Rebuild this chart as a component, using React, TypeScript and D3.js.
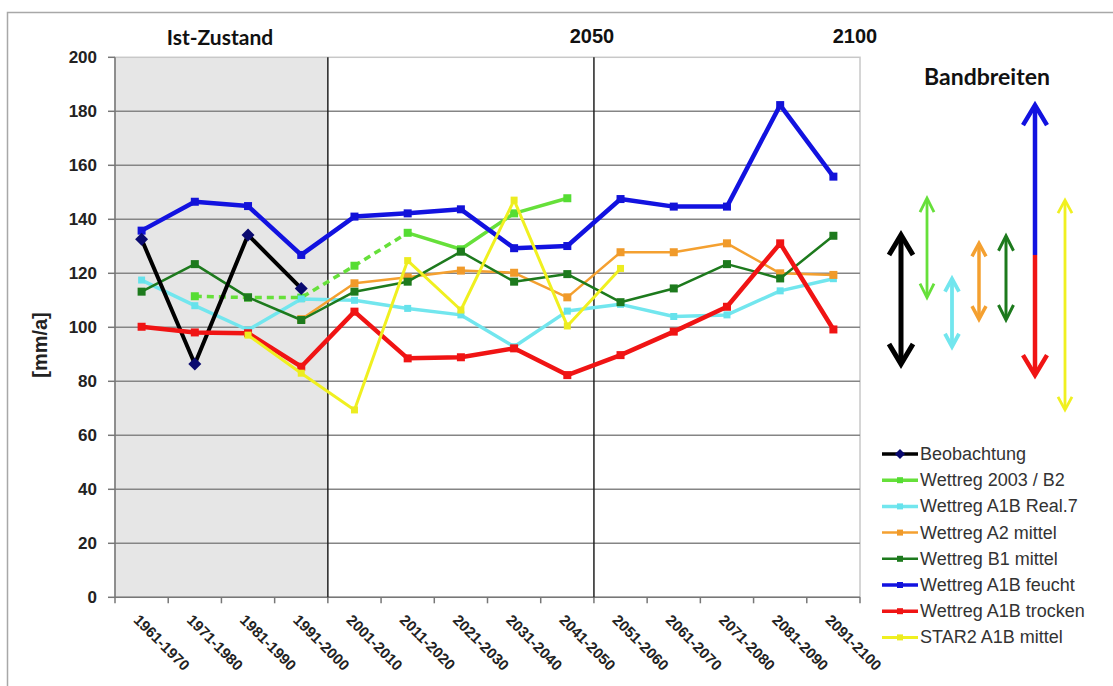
import React from 'react';
import * as d3 from 'd3';

const categories = [
  '1961-1970', '1971-1980', '1981-1990', '1991-2000', '2001-2010', '2011-2020', '2021-2030',
  '2031-2040', '2041-2050', '2051-2060', '2061-2070', '2071-2080', '2081-2090', '2091-2100',
];
const yTicks = [0, 20, 40, 60, 80, 100, 120, 140, 160, 180, 200];

const beobachtung = [132.6, 86.4, 134.2, 114.4, null, null, null, null, null, null, null, null, null, null];
const wettreg2003B2 = [null, 111.5, 111, 111, 122.8, 135, 128.9, 142.2, 147.8, null, null, null, null, null];
const wettregA1BReal7 = [117.5, 108, 99, 110.5, 110, 107, 104.6, 92.8, 106, 108.5, 104, 104.6, 113.5, 118];
const wettregA2 = [null, null, null, 103, 116.3, 118.5, 121, 120.2, 111.1, 127.8, 127.8, 131.1, 120, 119.4];
const wettregB1 = [113.2, 123.4, 111.1, 102.7, 113.2, 116.9, 128, 116.9, 119.7, 109.3, 114.4, 123.4, 118.1, 133.9];
const wettregA1BFeucht = [135.8, 146.5, 144.9, 126.8, 141, 142.2, 143.7, 129.3, 130.1, 147.5, 144.7, 144.7, 182.3, 155.8];
const wettregA1BTrocken = [100.2, 98.1, 97.8, 85.4, 105.8, 88.5, 88.9, 92.2, 82.3, 89.7, 98.4, 107.6, 131.1, 99.2];
const star2A1B = [null, null, 97.1, 83, 69.4, 124.7, 106.4, 147.1, 100.5, 121.8, null, null, null, null];

const legendNames = [
  'Beobachtung', 'Wettreg 2003 / B2', 'Wettreg A1B Real.7', 'Wettreg A2 mittel',
  'Wettreg B1 mittel', 'Wettreg A1B feucht', 'Wettreg A1B trocken', 'STAR2 A1B mittel',
];

type Series = {
  name: string;
  values: (number | null)[];
  color: string;
  markerColor: string;
  width: number;
  marker: 'diamond' | 'square';
  size: number;
  dashUntil?: number;
};

const series: Series[] = [
  { name: legendNames[0], values: beobachtung, color: '#000000', markerColor: '#0a0a70', width: 4, marker: 'diamond', size: 9 },
  { name: legendNames[1], values: wettreg2003B2, color: '#66e03a', markerColor: '#55dd33', width: 3.5, marker: 'square', size: 8, dashUntil: 5 },
  { name: legendNames[2], values: wettregA1BReal7, color: '#72e6ee', markerColor: '#66e2ec', width: 3.5, marker: 'square', size: 7 },
  { name: legendNames[3], values: wettregA2, color: '#f4a030', markerColor: '#f09a2a', width: 2.5, marker: 'square', size: 8 },
  { name: legendNames[4], values: wettregB1, color: '#1d7a1d', markerColor: '#1d7a1d', width: 2.5, marker: 'square', size: 8 },
  { name: legendNames[5], values: wettregA1BFeucht, color: '#1212e0', markerColor: '#1212d8', width: 4.5, marker: 'square', size: 8 },
  { name: legendNames[6], values: wettregA1BTrocken, color: '#f01414', markerColor: '#f01414', width: 4.5, marker: 'square', size: 8 },
  { name: legendNames[7], values: star2A1B, color: '#f0f020', markerColor: '#ecec20', width: 3, marker: 'square', size: 7 },
];

const drawOrder = [1, 2, 3, 4, 5, 0, 6, 7];

const W = 1113;
const H = 686;
const PL = 115;
const PR = 860;
const PT = 57.3;
const PB = 597.3;

const ARIAL = "'Liberation Sans', Arial, sans-serif";
const CAL = "Lato, 'Open Sans', sans-serif";

export default function App() {
  const x = d3.scaleBand<string>().domain(categories).range([PL, PR]).padding(0);
  const cx = (i: number) => (x(categories[i]) as number) + x.bandwidth() / 2;
  const y = d3.scaleLinear().domain([0, 200]).range([PB, PT]);

  const lineGen = d3
    .line<[number, number | null]>()
    .defined((d) => d[1] != null)
    .x((d) => cx(d[0]))
    .y((d) => y(d[1] as number));

  const boundary1 = x(categories[4]) as number;
  const boundary2 = x(categories[9]) as number;

  const marker = (s: Series, px: number, py: number, key: string, size = s.size) => {
    if (s.marker === 'diamond') {
      const r = size * 0.72;
      return (
        <path key={key} d={`M${px},${py - r}L${px + r},${py}L${px},${py + r}L${px - r},${py}Z`} fill={s.markerColor} />
      );
    }
    return <rect key={key} x={px - size / 2} y={py - size / 2} width={size} height={size} fill={s.markerColor} />;
  };

  const ext = (v: (number | null)[]) => d3.extent(v.filter((d) => d != null) as number[]) as [number, number];
  const arrowX = [901, 927, 952, 979, 1006, 1035, 1065];
  const arrowDefs = [
    { s: 0, w: 5, hw: 12, hl: 20 },
    { s: 1, w: 2.8, hw: 7, hl: 14 },
    { s: 2, w: 3.8, hw: 7, hl: 13 },
    { s: 3, w: 3.5, hw: 7, hl: 13 },
    { s: 4, w: 3, hw: 7.5, hl: 15 },
  ];
  const chevron = (xx: number, tip: number, dir: number, hw: number, hl: number) =>
    `M${xx - hw},${tip + dir * hl}L${xx},${tip}L${xx + hw},${tip + dir * hl}`;

  const blueExt = ext(wettregA1BFeucht);
  const redExt = ext(wettregA1BTrocken);
  const yelExt = ext(star2A1B);

  return (
    <svg width={W} height={H} style={{ position: 'absolute', left: 0, top: 0, background: '#fff' }}>
      <rect x={0} y={0} width={W} height={H} fill="#fff" />
      <rect x={7.5} y={12.5} width={W + 20} height={H + 20} fill="none" stroke="#a8a8a8" strokeWidth={1.5} />

      <rect x={PL} y={PT} width={boundary1 - PL} height={PB - PT} fill="#e6e6e6" />
      <rect x={PL} y={PT} width={PR - PL} height={PB - PT} fill="none" stroke="#c8c8c8" strokeWidth={1.5} />

      {yTicks.map((t) => (
        <g key={t}>
          {t > 0 && t < 200 && <line x1={PL} x2={PR} y1={y(t)} y2={y(t)} stroke="#858585" strokeWidth={1.5} />}
          <line x1={PL - 7} x2={PL} y1={y(t)} y2={y(t)} stroke="#777" strokeWidth={1.5} />
          <text
            x={97}
            y={y(t)}
            textAnchor="end"
            dominantBaseline="central"
            fontFamily={ARIAL}
            fontWeight="bold"
            fontSize={17}
            fill="#222"
          >
            {t}
          </text>
        </g>
      ))}

      <line x1={PL} x2={PL} y1={PT} y2={PB} stroke="#777" strokeWidth={1.5} />
      <line x1={PL} x2={PR} y1={PB} y2={PB} stroke="#777" strokeWidth={1.5} />
      {d3.range(categories.length + 1).map((k) => {
        const xx = PL + k * x.bandwidth();
        return <line key={k} x1={xx} x2={xx} y1={PB} y2={PB + 6} stroke="#777" strokeWidth={1.5} />;
      })}

      <line x1={boundary1} x2={boundary1} y1={PT} y2={PB} stroke="#222" strokeWidth={1.5} />
      <line x1={boundary2} x2={boundary2} y1={PT} y2={PB} stroke="#222" strokeWidth={1.5} />

      {categories.map((c, i) => (
        <text
          key={c}
          transform={`translate(${cx(i) - 1},${613}) rotate(45)`}
          dominantBaseline="hanging"
          fontFamily={ARIAL}
          fontWeight="bold"
          fontSize={15}
          fill="#222"
        >
          {c}
        </text>
      ))}

      <text
        transform="translate(40,345) rotate(-90)"
        textAnchor="middle"
        dominantBaseline="central"
        fontFamily={ARIAL}
        fontWeight="bold"
        fontSize={20}
        fill="#222"
      >
        [mm/a]
      </text>

      <text x={220} y={45} textAnchor="middle" fontFamily={CAL} fontWeight="bold" fontSize={21} fill="#111">
        Ist-Zustand
      </text>
      <text x={592} y={43} textAnchor="middle" fontFamily={ARIAL} fontWeight="bold" fontSize={20} fill="#111">
        2050
      </text>
      <text x={855} y={43} textAnchor="middle" fontFamily={ARIAL} fontWeight="bold" fontSize={20} fill="#111">
        2100
      </text>
      <text x={987} y={85} textAnchor="middle" fontFamily={CAL} fontWeight="bold" fontSize={23} fill="#111">
        Bandbreiten
      </text>

      {drawOrder.map((si) => {
        const s = series[si];
        const pts = s.values.map((v, i) => [i, v] as [number, number | null]);
        if (s.dashUntil != null) {
          const dashed = pts.map((p) => (p[0] <= s.dashUntil! ? p : ([p[0], null] as [number, number | null])));
          const solid = pts.map((p) => (p[0] >= s.dashUntil! ? p : ([p[0], null] as [number, number | null])));
          return (
            <g key={s.name}>
              <path d={lineGen(dashed) || ''} fill="none" stroke={s.color} strokeWidth={s.width} strokeDasharray="7,5" />
              <path d={lineGen(solid) || ''} fill="none" stroke={s.color} strokeWidth={s.width} strokeLinejoin="round" />
              {pts.filter((p) => p[1] != null).map((p) => marker(s, cx(p[0]), y(p[1] as number), `${s.name}-${p[0]}`))}
            </g>
          );
        }
        return (
          <g key={s.name}>
            <path d={lineGen(pts) || ''} fill="none" stroke={s.color} strokeWidth={s.width} strokeLinejoin="round" />
            {pts.filter((p) => p[1] != null).map((p) => marker(s, cx(p[0]), y(p[1] as number), `${s.name}-${p[0]}`))}
          </g>
        );
      })}

      {arrowDefs.map((a, k) => {
        const s = series[a.s];
        const [lo, hi] = ext(s.values);
        const xx = arrowX[k];
        const top = y(hi);
        const bot = y(lo);
        return (
          <g key={s.name} stroke={s.color} strokeWidth={a.w} fill="none" strokeLinecap="butt">
            <line x1={xx} x2={xx} y1={top + 1} y2={bot - 1} />
            <path d={chevron(xx, top, 1, a.hw, a.hl)} />
            <path d={chevron(xx, bot, -1, a.hw, a.hl)} />
          </g>
        );
      })}
      <g strokeWidth={4.5} fill="none">
        <line x1={arrowX[5]} x2={arrowX[5]} y1={y(blueExt[1]) + 1} y2={y(blueExt[0])} stroke={series[5].color} />
        <path d={chevron(arrowX[5], y(blueExt[1]), 1, 12, 20)} stroke={series[5].color} />
        <line x1={arrowX[5]} x2={arrowX[5]} y1={y(blueExt[0])} y2={y(redExt[0]) - 1} stroke={series[6].color} />
        <path d={chevron(arrowX[5], y(redExt[0]), -1, 12, 20)} stroke={series[6].color} />
      </g>
      <g stroke={series[7].color} strokeWidth={2.8} fill="none">
        <line x1={arrowX[6]} x2={arrowX[6]} y1={y(yelExt[1]) + 1} y2={y(yelExt[0]) - 1} />
        <path d={chevron(arrowX[6], y(yelExt[1]), 1, 7, 13)} />
        <path d={chevron(arrowX[6], y(yelExt[0]), -1, 7, 13)} />
      </g>

      {series.map((s, k) => {
        const ly = 454 + k * 26.2;
        return (
          <g key={s.name}>
            <line x1={882} x2={918} y1={ly} y2={ly} stroke={s.color} strokeWidth={Math.min(s.width, 3.5)} />
            {marker(s, 900, ly, `leg-${k}`, s.marker === 'diamond' ? 7 : 6)}
            <text x={920} y={ly} dominantBaseline="central" fontFamily={ARIAL} fontSize={18} fill="#333">
              {s.name}
            </text>
          </g>
        );
      })}
    </svg>
  );
}
